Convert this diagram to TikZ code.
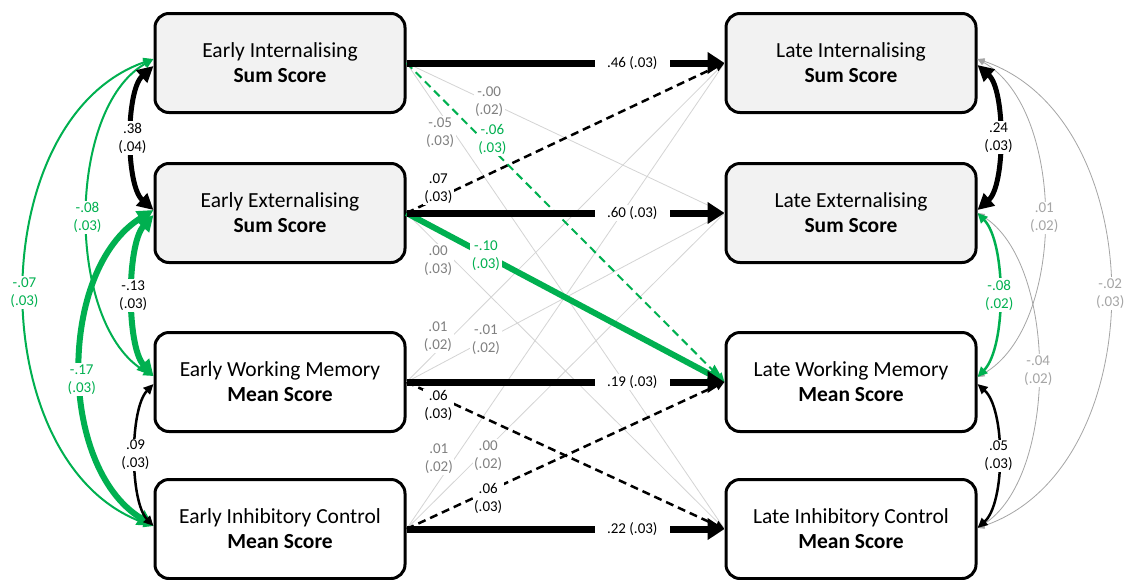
\documentclass[tikz,border=0pt]{standalone}
\usepackage{fontspec}
\setmainfont{Carlito}
\usetikzlibrary{arrows.meta}
\definecolor{grn}{RGB}{0,176,80}
\definecolor{boxgray}{RGB}{242,242,242}
\definecolor{lblgray}{RGB}{128,128,128}
\definecolor{linegray}{RGB}{212,212,212}
\definecolor{ltgray}{RGB}{165,165,165}
\begin{document}
\begin{tikzpicture}[x=1pt,y=-1pt,
  box/.style={draw, line width=3pt, rounded corners=14pt, minimum width=250pt,
    minimum height=99pt, align=center, font=\fontsize{21.5}{25}\selectfont},
  grayfill/.style={fill=boxgray},
  whitefill/.style={fill=white},
  lbl/.style={fill=white, inner sep=1.5pt, align=center, font=\fontsize{15}{18}\selectfont},
  hlbl/.style={lbl, inner xsep=12pt},
  auto/.style={line width=7pt, -{Triangle[length=17pt,width=21pt]}},
  thinpath/.style={line width=0.8pt, draw=linegray},
  dashpath/.style={line width=2.5pt, dash pattern=on 8pt off 5pt, -{Triangle[length=9pt,width=9pt]}},
  bigcov/.style={line width=5pt, {Triangle[length=16pt,width=16pt]}-{Triangle[length=16pt,width=16pt]}},
  thickcov/.style={line width=6pt, {Triangle[length=16pt,width=16pt]}-{Triangle[length=16pt,width=16pt]}},
  midcov/.style={line width=2.5pt, {Triangle[length=10pt,width=9pt]}-{Triangle[length=10pt,width=9pt]}},
  graycov/.style={line width=0.8pt, draw=ltgray, {Triangle[length=7pt,width=6pt]}-{Triangle[length=7pt,width=6pt]}},
]
\useasboundingbox (0,0) rectangle (1130,579);
\fill[white] (0,0) rectangle (1130,579);

% boxes
\node[box,grayfill]  (EI)  at (280,63)  {Early Internalising\\\textbf{Sum Score}};
\node[box,grayfill]  (EE)  at (280,213) {Early Externalising\\\textbf{Sum Score}};
\node[box,whitefill] (EWM) at (280,382) {Early Working Memory\\\textbf{Mean Score}};
\node[box,whitefill] (EIC) at (280,529) {Early Inhibitory Control\\\textbf{Mean Score}};
\node[box,grayfill]  (LI)  at (851,63)  {Late Internalising\\\textbf{Sum Score}};
\node[box,grayfill]  (LE)  at (851,213) {Late Externalising\\\textbf{Sum Score}};
\node[box,whitefill] (LWM) at (851,382) {Late Working Memory\\\textbf{Mean Score}};
\node[box,whitefill] (LIC) at (851,529) {Late Inhibitory Control\\\textbf{Mean Score}};

% thin gray cross-lagged paths
\draw[thinpath] (EI.east) -- node[lbl,text=lblgray,pos=0.26] {-.00\\(.02)} (LE.west);
\draw[thinpath] (EI.east) -- node[lbl,text=lblgray,pos=0.15,xshift=-14pt] {-.05\\(.03)} (LIC.west);
\draw[thinpath] (EE.east) -- node[lbl,text=lblgray,pos=0.15,xshift=-16pt] {.00\\(.03)} (LIC.west);
\draw[thinpath] (EWM.east) -- node[lbl,text=lblgray,pos=0.143,xshift=-14pt] {.01\\(.02)} (LI.west);
\draw[thinpath] (EWM.east) -- node[lbl,text=lblgray,pos=0.25] {-.01\\(.02)} (LE.west);
\draw[thinpath] (EIC.east) -- node[lbl,text=lblgray,pos=0.152,xshift=-16pt] {.01\\(.02)} (LI.west);
\draw[thinpath] (EIC.east) -- node[lbl,text=lblgray,pos=0.257,yshift=-8pt] {.00\\(.02)} (LE.west);

% black dashed paths
\draw[dashpath] (EE.east) -- node[lbl,pos=0.1,yshift=9pt] {.07\\(.03)} (LI.west);
\draw[dashpath] (EWM.east) -- node[lbl,pos=0.1,yshift=-9pt] {.06\\(.03)} (LIC.west);
\draw[dashpath] (EIC.east) -- node[lbl,pos=0.257,yshift=-7pt] {.06\\(.03)} (LWM.west);

% green paths
\draw[dashpath,draw=grn,line width=2pt] (EI.east) -- node[lbl,text=grn,pos=0.27,yshift=10pt] {-.06\\(.03)} (LWM.west);
\draw[draw=grn,line width=6pt,-{Triangle[length=17pt,width=20pt]}] (EE.east) -- node[lbl,text=grn,pos=0.25] {-.10\\(.03)} (LWM.west);

% autoregressive paths
\draw[auto] (EI.east) -- node[hlbl,pos=0.71] {.46 (.03)} (LI.west);
\draw[auto] (EE.east) -- node[hlbl,pos=0.71] {.60 (.03)} (LE.west);
\draw[auto] (EWM.east) -- node[hlbl,pos=0.71] {.19 (.03)} (LWM.west);
\draw[auto] (EIC.east) -- node[hlbl,pos=0.71] {.22 (.03)} (LIC.west);

% left covariances
\coordinate (EIa) at ([yshift=4pt]EI.west);
\coordinate (EIb) at ([yshift=-3pt]EI.west);
\coordinate (EEa) at ([yshift=3pt]EE.west);
\coordinate (EEb) at ([yshift=-2pt]EE.west);
\coordinate (EWMa) at ([yshift=6pt]EWM.west);
\coordinate (EWMb) at ([yshift=-2pt]EWM.west);
\coordinate (EICa) at ([yshift=3pt]EIC.west);

\draw[midcov,draw=grn,line width=2pt] (EIa) .. controls +(-172,60) and +(-172,-60) .. node[lbl,text=grn] {-.07\\(.03)} (EICa);
\draw[thickcov,draw=grn] (EEa) .. controls +(-96,60) and +(-96,-60) .. node[lbl,text=grn,pos=0.53] {-.17\\(.03)} (EICa);
\draw[midcov,draw=grn,line width=2pt] (EIa) .. controls +(-88,50) and +(-88,-50) .. node[lbl,text=grn] {-.08\\(.03)} (EWMa);
\draw[bigcov] (EIb) .. controls +(-28,25) and +(-28,-25) .. node[lbl] {.38\\(.04)} (EEa);
\draw[thickcov,draw=grn] (EEb) .. controls +(-27,30) and +(-27,-30) .. node[lbl] {-.13\\(.03)} (EWMa);
\draw[midcov] (EWMb) .. controls +(-24,25) and +(-24,-25) .. node[lbl] {.09\\(.03)} (EICa);

% right covariances
\coordinate (LIa) at ([yshift=4pt]LI.east);
\coordinate (LIb) at ([yshift=-2pt]LI.east);
\coordinate (LEa) at ([yshift=3pt]LE.east);
\coordinate (LEb) at ([yshift=0pt]LE.east);
\coordinate (LWMa) at ([yshift=5pt]LWM.east);
\coordinate (LWMb) at ([yshift=-2pt]LWM.east);
\coordinate (LICa) at ([yshift=1pt]LIC.east);

\draw[graycov] (LIa) .. controls +(177,60) and +(177,-60) .. node[lbl,text=ltgray] {-.02\\(.03)} (LICa);
\draw[graycov] (LIa) .. controls +(89,50) and +(89,-50) .. node[lbl,text=ltgray] {.01\\(.02)} (LWMa);
\draw[graycov] (LEb) .. controls +(81,50) and +(81,-50) .. node[lbl,text=ltgray] {-.04\\(.02)} (LICa);
\draw[bigcov] (LIb) .. controls +(28,25) and +(28,-25) .. node[lbl] {.24\\(.03)} (LEa);
\draw[midcov,draw=grn] (LEb) .. controls +(29,30) and +(29,-30) .. node[lbl,text=grn] {-.08\\(.02)} (LWMa);
\draw[midcov] (LWMb) .. controls +(28,25) and +(28,-25) .. node[lbl] {.05\\(.03)} (LICa);
\end{tikzpicture}
\end{document}
